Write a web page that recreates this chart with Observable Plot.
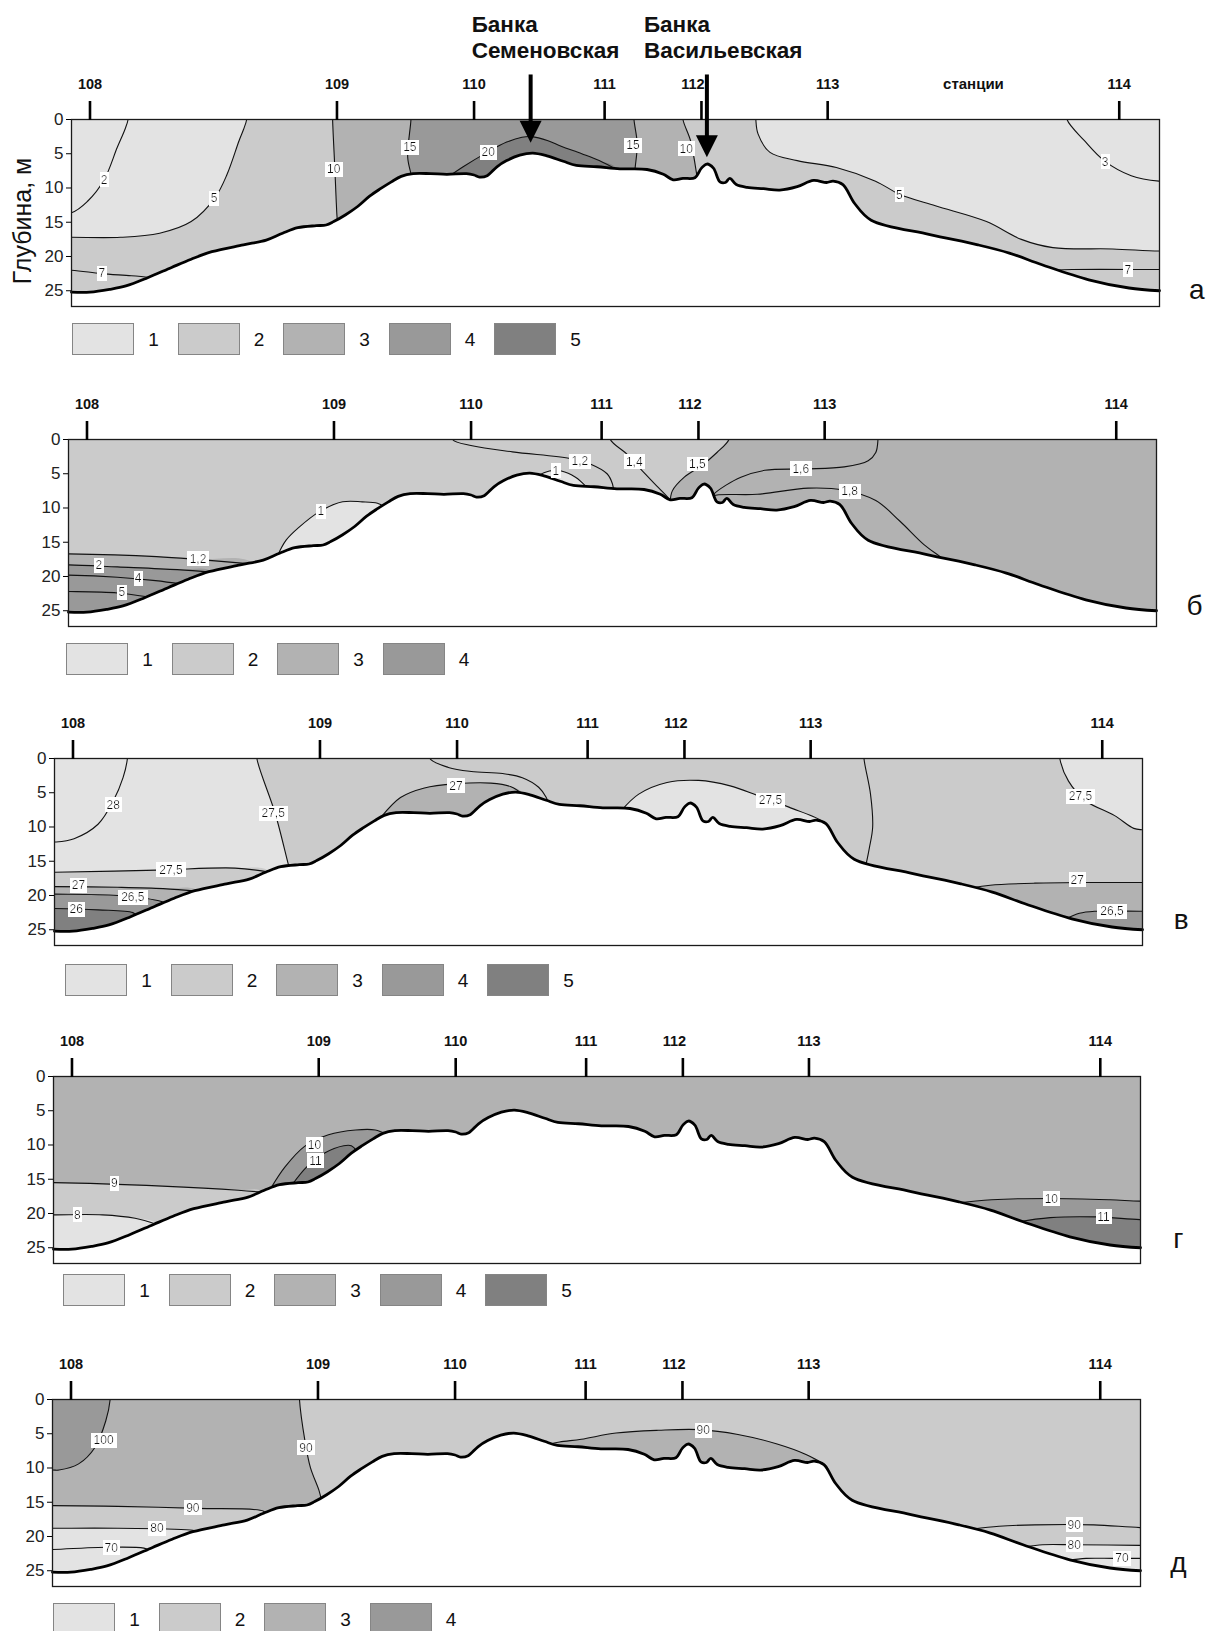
<!DOCTYPE html>
<html lang="ru">
<head>
<meta charset="utf-8">
<title>Разрезы по станциям 108–114</title>
<script src="https://cdn.jsdelivr.net/npm/d3@7"></script>
<script src="https://cdn.jsdelivr.net/npm/@observablehq/plot@0.6"></script>
<style>
  html, body { margin: 0; padding: 0; background: #fff; }
  #page { position: relative; width: 1216px; height: 1631px; overflow: hidden; background: #fff;
          font-family: "Liberation Sans", Arial, sans-serif; }
  .panel { position: absolute; left: 0; }
  .legend { position: absolute; height: 33px; }
  .legend .sw { position: absolute; top: 0; width: 60px; height: 30px; border: 1.5px solid #858585; }
  .legend .num { position: absolute; top: 0; line-height: 33px; font-size: 19px; color: #111; transform: translateX(-50%); }
  .isolabel text { filter: url(#label-bg); }
</style>
</head>
<body>
<svg width="0" height="0" style="position:absolute">
  <defs>
    <!-- white box behind isoline labels -->
    <filter id="label-bg" x="-0.1" y="0" width="1.2" height="1">
      <feFlood flood-color="#ffffff"/>
      <feComposite in="SourceGraphic"/>
    </filter>
  </defs>
</svg>
<div id="page"></div>
<script>
// ---------- Section geometry: distance along the section (0–100), depth in metres ----------
const stationNames = ["108", "109", "110", "111", "112", "113", "114"];
const stationX = [1.7, 24.4, 37.0, 49.0, 57.9, 69.5, 96.3];
const depthTicks = [0, 5, 10, 15, 20, 25];
const depthMax = 27.3;

// Sea-bed profile [distance, depth]
const seabed = [
  [0, 25.2], [1.7, 25.2], [3.5, 24.8], [5, 24.3], [7, 23.1], [9.2, 21.6], [11, 20.4], [12.9, 19.3],
  [15.8, 18.3], [17.9, 17.6], [19.4, 16.6], [20.8, 15.8], [22.5, 15.5], [23.4, 15.4], [24.1, 14.9],
  [25.2, 13.9], [26.3, 12.7], [27.4, 11.2], [28.4, 10.1], [29.4, 9.1], [30.3, 8.3], [31.4, 7.9],
  [33, 7.9], [34.5, 8.0], [36.3, 7.9], [37.0, 8.1], [37.5, 8.4], [38.2, 8.2], [39.1, 6.9], [40.0, 6.0],
  [41.2, 5.2], [42.4, 4.9], [43.7, 5.3], [45.2, 6.1], [46.4, 6.7], [48.3, 6.9], [50.4, 7.2], [52.9, 7.3],
  [54.4, 8.0], [55.3, 8.8], [56.2, 8.6], [57.3, 8.5], [57.9, 7.1], [58.4, 6.5], [59.0, 7.1], [59.6, 9.1],
  [60.1, 9.2], [60.5, 8.6], [61.1, 9.5], [62.1, 9.9], [63.6, 10.1], [65.1, 10.3], [66.7, 9.8], [68.2, 8.9],
  [69.4, 9.2], [70.0, 9.0], [70.9, 9.5], [72.0, 12.3], [73.5, 14.7], [78.9, 16.8], [83.3, 18.3],
  [86.2, 19.5], [89.2, 21.2], [93.5, 23.4], [97.2, 24.6], [100, 25.0]
];

// Banks marked by arrows on the first section
const bankNames = ["Банка\nСеменовская", "Банка\nВасильевская"];
const bankX = [42.2, 58.4];
const bankTip = [3.4, 5.5];

const panelLetters = ["а", "б", "в", "г", "д"];
const legendClasses = [5, 4, 5, 5, 4];
const zoneColors = ["#e3e3e3", "#cbcbcb", "#b2b2b2", "#999999", "#808080"];
const baseZone = [2, 2, 2, 3, 3];

// ---------- Section а ----------
const isoA = [
  {id: "2",   pts: [[5.2, 0], [4.9, 1.5], [4.2, 4.1], [3.0, 8.8], [1.5, 11.9], [0, 13.6]]},
  {id: "5L",  pts: [[16.1, 0], [15.8, 1.5], [15.4, 3.1], [14.3, 8.0], [13.2, 11.4], [11.0, 14.9], [8.1, 16.6], [4.5, 17.2], [0, 17.2]]},
  {id: "7L",  pts: [[0, 22.0], [2.7, 22.5], [5.5, 22.8], [7.6, 23.1]]},
  {id: "10L", pts: [[24.0, 0], [24.2, 7.0], [24.4, 14.1], [24.45, 15.0]]},
  {id: "15L", pts: [[31.2, 0], [30.9, 5.5], [31.2, 7.9], [31.3, 8.6]]},
  {id: "20",  pts: [[34.6, 8.4], [36.0, 6.9], [38.2, 4.8], [40.0, 3.3], [41.4, 2.6], [42.3, 2.5], [43.8, 3.1], [45.0, 3.9], [46.9, 5.0], [48.5, 6.0], [50.2, 7.4]]},
  {id: "15R", pts: [[51.7, 0], [52.0, 3.6], [51.8, 7.2], [51.8, 7.7]]},
  {id: "10R", pts: [[56.2, 0], [56.9, 3.1], [57.5, 8.4], [57.55, 8.9]]},
  {id: "5R",  pts: [[62.9, 0], [63.1, 2.1], [64.2, 4.8], [66.7, 6.0], [70.3, 7.0], [73.9, 9.0], [76.1, 10.9], [79.4, 12.6], [84.1, 14.9], [87.3, 17.5], [90.2, 18.7], [95.7, 18.9], [100, 19.2]]},
  {id: "3",   pts: [[91.5, 0], [93.1, 3.1], [94.9, 6.0], [97.4, 8.2], [100, 9.0]]},
  {id: "7R",  pts: [[90.2, 22.0], [92, 21.9], [100, 21.9]]}
];
const fillsA = [
  {zone: 3, shape: "between", of: ["10L", "10R"]},
  {zone: 4, shape: "between", of: ["15L", "15R"]},
  {zone: 5, shape: "below", of: ["20"]},
  {zone: 1, shape: "cornerTL", of: ["5L"]},
  {zone: 1, shape: "cornerTR", of: ["5R"]}
];
const labelsA = [
  {x: 3.0, d: 8.8, t: "2"}, {x: 13.1, d: 11.5, t: "5"}, {x: 2.8, d: 22.5, t: "7"},
  {x: 24.1, d: 7.3, t: "10"}, {x: 31.1, d: 4.1, t: "15"}, {x: 38.3, d: 4.8, t: "20"},
  {x: 51.6, d: 3.8, t: "15"}, {x: 56.5, d: 4.3, t: "10"}, {x: 76.1, d: 11.0, t: "5"},
  {x: 95.0, d: 6.2, t: "3"}, {x: 97.1, d: 21.95, t: "7"}
];

// ---------- Section б ----------
const isoB = [
  {id: "1,2T", pts: [[35.3, 0], [37.1, 0.9], [40.8, 1.8], [46.2, 2.8], [48.0, 3.6], [49.5, 5.0], [50.0, 6.5], [50.1, 7.6]]},
  {id: "1s",   pts: [[43.0, 5.4], [44.2, 4.6], [45.3, 4.6], [46.6, 5.5], [47.6, 6.9]]},
  {id: "1b",   pts: [[19.2, 17.0], [20.0, 14.7], [21.2, 12.8], [23.0, 10.6], [25.2, 9.1], [27.0, 9.1], [28.4, 9.3], [29.0, 9.8]]},
  {id: "1,4",  pts: [[49.8, 0], [51.3, 2.1], [52.7, 4.5], [54.2, 7.0], [55.2, 8.7], [55.3, 9.2]]},
  {id: "1,5",  pts: [[60.7, 0], [59.6, 1.9], [58.2, 3.8], [56.6, 5.5], [55.5, 7.5], [55.3, 9.2]]},
  {id: "1,6",  pts: [[74.4, 0], [74.2, 1.9], [73.5, 3.1], [71.3, 4.0], [67.6, 4.3], [64.0, 4.5], [61.8, 5.5], [60.4, 6.7], [59.3, 8.0], [59.1, 8.6]]},
  {id: "1,8",  pts: [[59.1, 8.6], [59.3, 8.2], [63.3, 8.0], [68.0, 7.1], [71.3, 7.4], [74.2, 8.9], [76.4, 11.9], [78.6, 15.3], [80.2, 17.2], [80.5, 17.6]]},
  {id: "1,2B", pts: [[0, 16.7], [8.1, 17.1], [11.8, 17.5], [17.0, 18.2]]},
  {id: "2",    pts: [[0, 18.3], [4.5, 18.6], [10, 19.0], [13.2, 19.4]]},
  {id: "4",    pts: [[0, 19.8], [4.5, 20.1], [8.0, 20.6], [10.4, 21.1]]},
  {id: "5",    pts: [[0, 22.2], [4.5, 22.4], [7.4, 23.0]]}
];
const fillsB = [
  {zone: 3, shape: "right", of: ["1,5"]},
  {zone: 3, shape: "below", of: ["1,2B"]},
  {zone: 4, shape: "below", of: ["2"]},
  {zone: 1, shape: "below", of: ["1b"]},
  {zone: 1, shape: "below", of: ["1s"]}
];
const labelsB = [
  {x: 47.0, d: 3.2, t: "1,2"}, {x: 44.8, d: 4.6, t: "1"}, {x: 23.2, d: 10.5, t: "1"},
  {x: 11.9, d: 17.4, t: "1,2"}, {x: 2.8, d: 18.4, t: "2"}, {x: 6.4, d: 20.3, t: "4"},
  {x: 4.9, d: 22.3, t: "5"}, {x: 52.0, d: 3.3, t: "1,4"}, {x: 57.8, d: 3.6, t: "1,5"},
  {x: 67.3, d: 4.3, t: "1,6"}, {x: 71.8, d: 7.6, t: "1,8"}
];

// ---------- Section в ----------
const isoC = [
  {id: "28",    pts: [[6.7, 0], [6.3, 2.8], [5.4, 6.2], [4.0, 9.6], [1.8, 11.7], [0, 12.2]]},
  {id: "27,5V", pts: [[18.6, 0], [20.3, 8.1], [21.5, 15.5], [21.6, 16.0]]},
  {id: "27,5H", pts: [[0, 16.6], [9.4, 16.3], [16.6, 16.0], [19.8, 16.6]]},
  {id: "27",    pts: [[0, 18.7], [5.8, 18.8], [10.0, 19.0], [13.2, 19.4]]},
  {id: "26,5",  pts: [[0, 19.8], [5.8, 20.0], [9.9, 20.9], [10.3, 21.2]]},
  {id: "26",    pts: [[0, 21.9], [4.0, 22.1], [7.2, 22.5], [7.6, 23.0]]},
  {id: "u",     pts: [[34.5, 0], [36.2, 1.3], [38.3, 1.9], [41.2, 2.2], [43.0, 2.8], [44.5, 4.2], [45.2, 5.7], [45.4, 6.6]]},
  {id: "27l",   pts: [[30.0, 8.6], [31.8, 5.7], [34.0, 4.3], [36.9, 3.7], [40.1, 3.6], [41.9, 4.1], [43.2, 5.4]]},
  {id: "27,5l", pts: [[52.1, 7.6], [53.7, 5.2], [56.3, 3.5], [59.2, 3.2], [62.1, 4.0], [64.6, 5.4], [67.5, 7.1], [70.4, 9.0], [70.7, 9.6]]},
  {id: "v2",    pts: [[74.4, 0], [75.0, 5.2], [75.2, 10.0], [74.9, 13.0], [74.6, 15.4]]},
  {id: "27,5R", pts: [[92.4, 0], [93.2, 3.3], [94.8, 6.2], [97.4, 8.3], [99.2, 10.2], [100, 10.4]]},
  {id: "27R",   pts: [[84.3, 18.9], [86, 18.5], [90.1, 18.2], [95.6, 18.1], [100, 18.1]]},
  {id: "26,5R", pts: [[93.0, 23.4], [94.2, 22.6], [95.6, 22.3], [100, 22.3]]}
];
const fillsC = [
  {zone: 1, shape: "left", of: ["27,5V"]},
  {zone: 2, shape: "below", of: ["27,5H"]},
  {zone: 3, shape: "below", of: ["27"]},
  {zone: 4, shape: "below", of: ["26,5"]},
  {zone: 5, shape: "below", of: ["26"]},
  {zone: 3, shape: "below", of: ["27l"]},
  {zone: 1, shape: "below", of: ["27,5l"]},
  {zone: 1, shape: "cornerTR", of: ["27,5R"]},
  {zone: 3, shape: "below", of: ["27R"]},
  {zone: 4, shape: "below", of: ["26,5R"]}
];
const labelsC = [
  {x: 5.4, d: 6.8, t: "28"}, {x: 20.1, d: 8.0, t: "27,5"}, {x: 10.7, d: 16.3, t: "27,5"},
  {x: 2.2, d: 18.5, t: "27"}, {x: 7.2, d: 20.3, t: "26,5"}, {x: 2.0, d: 22.0, t: "26"},
  {x: 36.9, d: 4.0, t: "27"}, {x: 65.8, d: 6.1, t: "27,5"}, {x: 94.3, d: 5.5, t: "27,5"},
  {x: 94.0, d: 17.7, t: "27"}, {x: 97.2, d: 22.3, t: "26,5"}
];

// ---------- Section г ----------
const isoD = [
  {id: "9",   pts: [[0, 15.5], [10.0, 16.0], [17.0, 16.6], [19.2, 16.9]]},
  {id: "8",   pts: [[0, 20.2], [4.5, 20.2], [7.5, 20.7], [9.5, 21.6]]},
  {id: "10L", pts: [[20.0, 16.3], [21.3, 13.2], [23.1, 10.2], [25.3, 8.5], [27.8, 7.8], [29.6, 7.8], [30.6, 8.4]]},
  {id: "11L", pts: [[22.0, 15.7], [23.3, 13.2], [24.9, 11.2], [26.7, 10.1], [27.4, 10.1], [27.9, 10.9]]},
  {id: "10R", pts: [[83.0, 18.5], [86.3, 18.0], [91.7, 17.8], [97.2, 18.0], [100, 18.2]]},
  {id: "11R", pts: [[88.4, 21.3], [91.7, 20.6], [96.1, 20.5], [100, 20.9]]}
];
const fillsD = [
  {zone: 2, shape: "below", of: ["9"]},
  {zone: 1, shape: "below", of: ["8"]},
  {zone: 4, shape: "below", of: ["10L"]},
  {zone: 5, shape: "below", of: ["11L"]},
  {zone: 4, shape: "below", of: ["10R"]},
  {zone: 5, shape: "below", of: ["11R"]}
];
const labelsD = [
  {x: 5.6, d: 15.6, t: "9"}, {x: 2.2, d: 20.2, t: "8"}, {x: 24.0, d: 10.0, t: "10"},
  {x: 24.1, d: 12.3, t: "11"}, {x: 91.8, d: 17.85, t: "10"}, {x: 96.6, d: 20.5, t: "11"}
];

// ---------- Section д ----------
const isoE = [
  {id: "100", pts: [[5.3, 0], [4.9, 3.1], [3.9, 7.0], [2.4, 9.4], [0.6, 10.3], [0, 10.3]]},
  {id: "90V", pts: [[22.7, 0], [23.2, 6.0], [23.7, 9.9], [24.5, 13.3], [24.7, 14.6]]},
  {id: "90H", pts: [[0, 15.5], [6.0, 15.6], [13.3, 15.9], [19.4, 16.3], [19.7, 16.8]]},
  {id: "80",  pts: [[0, 18.8], [6.0, 18.8], [12.9, 19.1], [13.4, 19.4]]},
  {id: "70",  pts: [[0, 21.9], [4.2, 21.6], [8.4, 21.7], [9.0, 22.1]]},
  {id: "90l", pts: [[45.5, 6.6], [46.6, 6.2], [48.6, 5.8], [51.8, 4.9], [55.7, 4.5], [59.4, 4.4], [63.0, 5.1], [66.6, 6.5], [69.2, 8.0], [71.2, 9.9], [71.3, 10.8]]},
  {id: "90R", pts: [[84.6, 18.9], [87, 18.5], [90.3, 18.3], [95.7, 18.3], [100, 18.7]]},
  {id: "80R", pts: [[89.5, 21.5], [91, 21.2], [93.9, 21.2], [100, 21.3]]},
  {id: "70R", pts: [[93.3, 23.5], [95, 23.2], [97.5, 23.2], [100, 23.2]]}
];
const fillsE = [
  {zone: 2, shape: "right", of: ["90V"]},
  {zone: 4, shape: "cornerTL", of: ["100"]},
  {zone: 2, shape: "below", of: ["90H"]},
  {zone: 1, shape: "below", of: ["80"]},
  {zone: 3, shape: "below", of: ["90l"]},
  {zone: 1, shape: "below", of: ["80R"]}
];
const labelsE = [
  {x: 4.7, d: 6.0, t: "100"}, {x: 23.3, d: 7.1, t: "90"}, {x: 12.9, d: 15.8, t: "90"},
  {x: 9.6, d: 18.8, t: "80"}, {x: 5.4, d: 21.65, t: "70"}, {x: 59.8, d: 4.5, t: "90"},
  {x: 93.9, d: 18.3, t: "90"}, {x: 93.9, d: 21.2, t: "80"}, {x: 98.3, d: 23.2, t: "70"}
];

const isolines = [isoA, isoB, isoC, isoD, isoE];
const fills = [fillsA, fillsB, fillsC, fillsD, fillsE];
const isoLabels = [labelsA, labelsB, labelsC, labelsD, labelsE];

// ---------- Page layout (pixels) ----------
const FRAME_H = 187;
const MARGIN_BOTTOM = 6;
const LEG_PITCH = 105.5;
const layout = [
  {top: 0,    marginTop: 119, left: 71, right: 1159, legendLeft: 72, legendTop: 323, letterDx: 45, letterDy: -8},
  {top: 379,  marginTop: 60,  left: 68, right: 1156, legendLeft: 66, legendTop: 643, letterDx: 46, letterDy: -12},
  {top: 698,  marginTop: 60,  left: 54, right: 1142, legendLeft: 65, legendTop: 964, letterDx: 46, letterDy: -17},
  {top: 1016, marginTop: 60,  left: 53, right: 1140, legendLeft: 63, legendTop: 1274, letterDx: 43, letterDy: -16},
  {top: 1339, marginTop: 60,  left: 52, right: 1140, legendLeft: 53, legendTop: 1603, letterDx: 46, letterDy: -15}
];

const X = p => p[0];
const Y = p => p[1];
const stations = stationNames.map((name, i) => ({name, x: stationX[i]}));
const banks = bankNames.map((name, i) => ({name, x: bankX[i], tip: bankTip[i]}));

// Isolines that touch the frame are continued a little past it (clipped away),
// so the stroke and the zone outline follow exactly the same curve up to the edge.
const OUT = 3, TOP_OUT = -1.5, BOT_OUT = depthMax + 2;
function extend(A) {
  const out = p => p[0] <= 0 ? [[-OUT, p[1]]]
    : p[0] >= 100 ? [[100 + OUT, p[1]]]
    : p[1] <= 0 ? [[p[0], TOP_OUT]] : [];
  return [...out(A[0]), ...A, ...out(A[A.length - 1])];
}

// Closed outline of a coloured zone, built from the isoline(s) that bound it.
// Parts that fall under the sea bed are hidden later by the ground mask.
function regionPoints(spec, iso) {
  const get = id => extend(iso.find(l => l.id === id).pts);
  const A = get(spec.of[0]);
  const first = A[0], last = A[A.length - 1];
  switch (spec.shape) {
    case "below": return [...A, [last[0], BOT_OUT], [first[0], BOT_OUT]];
    case "between": {
      const B = get(spec.of[1]);
      return [...A, [last[0], BOT_OUT], [B[B.length - 1][0], BOT_OUT], ...B.slice().reverse()];
    }
    case "left": return [...A, [last[0], BOT_OUT], [-OUT, BOT_OUT], [-OUT, TOP_OUT]];
    case "right": return [...A, [last[0], BOT_OUT], [100 + OUT, BOT_OUT], [100 + OUT, TOP_OUT]];
    case "cornerTL": return [...A, [-OUT, TOP_OUT]];
    case "cornerTR": return [...A, [100 + OUT, TOP_OUT]];
  }
}

// Downward arrowhead with its tip at the anchor point
const arrowHead = {
  draw(ctx) {
    ctx.moveTo(0, 0);
    ctx.lineTo(-11, -22);
    ctx.lineTo(11, -22);
    ctx.closePath();
  }
};

function buildPanel(i) {
  const L = layout[i];
  const iso = isolines[i];
  const pxPerM = FRAME_H / depthMax;
  const stationText = {frameAnchor: "top", dy: -41, fontSize: 14.5, fontWeight: "bold", fill: "#111"};
  const marks = [
    Plot.frame({fill: zoneColors[baseZone[i] - 1], stroke: null}),
    ...fills[i].map(f => Plot.line(regionPoints(f, iso), {
      x: X, y: Y, fill: zoneColors[f.zone - 1], stroke: "none", curve: "catmull-rom", clip: true
    })),
    ...iso.map(l => Plot.line(extend(l.pts), {
      x: X, y: Y, stroke: "#111", strokeWidth: 1.1, curve: "catmull-rom", clip: true
    })),
    Plot.areaY(seabed, {x: X, y1: Y, y2: depthMax, fill: "#fff", curve: "catmull-rom", clip: true}),
    Plot.line(seabed, {x: X, y: Y, stroke: "#000", strokeWidth: 2.8, curve: "catmull-rom", strokeLinejoin: "round"}),
    Plot.frame({stroke: "#1a1a1a", strokeWidth: 1.3}),
    Plot.axisY({ticks: depthTicks, tickSize: 5, tickPadding: 3, fontSize: 17, fill: "#222", label: null}),
    Plot.axisX({anchor: "top", ticks: stationX, tickSize: 19, strokeWidth: 2.6, tickFormat: () => "", label: null}),
    Plot.text(stations.filter(s => s.name !== "112"), {x: "x", text: "name", ...stationText}),
    Plot.text(stations.filter(s => s.name === "112"), {x: "x", text: "name", dx: -8.5, ...stationText}),
    Plot.text(isoLabels[i], {x: "x", y: "d", text: "t", fontSize: 12, fill: "#111", className: "isolabel"}),
    Plot.text([panelLetters[i]], {
      frameAnchor: "bottom-right", dx: L.letterDx, dy: L.letterDy, fontSize: 28, fill: "#111"
    })
  ];

  if (i === 0) {
    const titleDx = [-59, -63];
    marks.push(
      Plot.text(["Глубина, м"], {
        frameAnchor: "left", textAnchor: "middle", dx: -49, dy: 8, rotate: -90, fontSize: 25, fill: "#111"
      }),
      Plot.text(["станции"], {
        x: (stationX[5] + stationX[6]) / 2, frameAnchor: "top", dy: -41, fontSize: 15, fontWeight: "bold", fill: "#111"
      }),
      Plot.ruleX(banks, {x: "x", y1: -6.5, y2: d => d.tip - 19 / pxPerM, stroke: "#000", strokeWidth: 4}),
      Plot.dot(banks, {x: "x", y: "tip", symbol: arrowHead, r: 10, fill: "#000", stroke: "none"}),
      ...banks.map((b, k) => Plot.text([b], {
        x: "x", text: "name", frameAnchor: "top", textAnchor: "start", lineAnchor: "middle",
        dx: titleDx[k], dy: -83, fontSize: 22.5, fontWeight: "bold", lineHeight: 1.16, fill: "#111"
      }))
    );
  }

  const svg = Plot.plot({
    width: 1216,
    height: L.marginTop + FRAME_H + MARGIN_BOTTOM,
    marginLeft: L.left,
    marginRight: 1216 - L.right,
    marginTop: L.marginTop,
    marginBottom: MARGIN_BOTTOM,
    x: {domain: [0, 100]},
    y: {domain: [0, depthMax], reverse: true},
    style: {fontFamily: "'Liberation Sans', Arial, sans-serif", background: "transparent", overflow: "visible"},
    marks
  });
  svg.classList.add("panel");
  svg.style.top = L.top + "px";
  return svg;
}

function buildLegend(i) {
  const L = layout[i];
  const div = document.createElement("div");
  div.className = "legend";
  div.style.left = L.legendLeft + "px";
  div.style.top = L.legendTop + "px";
  for (let k = 0; k < legendClasses[i]; k++) {
    const sw = document.createElement("div");
    sw.className = "sw";
    sw.style.left = (k * LEG_PITCH) + "px";
    sw.style.background = zoneColors[k];
    const num = document.createElement("div");
    num.className = "num";
    num.style.left = (k * LEG_PITCH + 63 + 18.5) + "px";
    num.textContent = String(k + 1);
    div.append(sw, num);
  }
  return div;
}

const page = document.getElementById("page");
for (let i = 0; i < 5; i++) {
  page.append(buildPanel(i), buildLegend(i));
}
</script>
</body>
</html>
